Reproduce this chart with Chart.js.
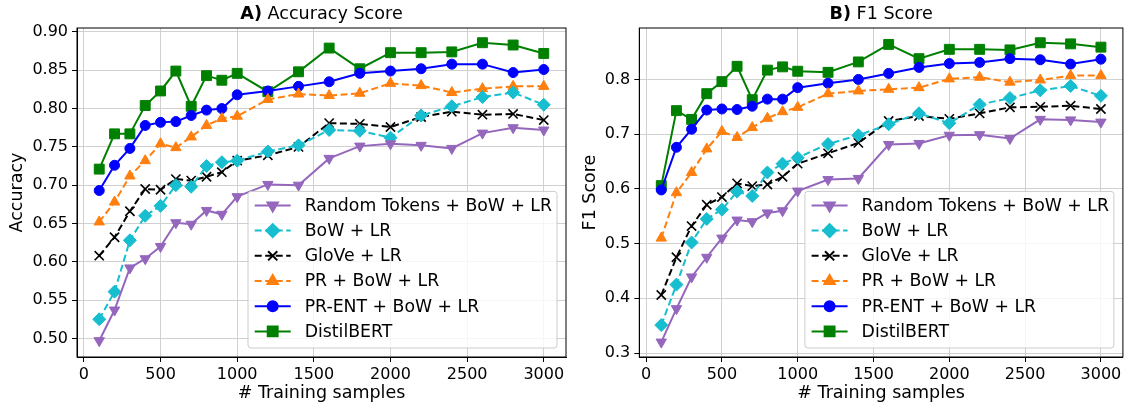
<!DOCTYPE html>
<html>
<head>
<meta charset="utf-8">
<script src="https://cdn.jsdelivr.net/npm/chart.js@4/dist/chart.umd.min.js"></script>
<style>
  html, body { margin: 0; padding: 0; background: #fff; }
  #wrap { position: relative; width: 1131px; height: 405px; overflow: hidden; }
  canvas { position: absolute; top: 0; }
  #accChart { left: 0; }
  #f1Chart { left: 575px; }
</style>
</head>
<body>
<div id="wrap">
  <canvas id="accChart" width="575" height="405"></canvas>
  <canvas id="f1Chart" width="556" height="405"></canvas>
</div>
<script>
// training set sizes on the x axis
const samples = [100, 200, 300, 400, 500, 600, 700, 800, 900, 1000, 1200, 1400, 1600, 1800, 2000, 2200, 2400, 2600, 2800, 3000];

const seriesNames = ['Random Tokens + BoW + LR', 'BoW + LR', 'GloVe + LR', 'PR + BoW + LR', 'PR-ENT + BoW + LR', 'DistilBERT'];

// tick labels
const xTicks = [0, 500, 1000, 1500, 2000, 2500, 3000];
const accTicks = [0.50, 0.55, 0.60, 0.65, 0.70, 0.75, 0.80, 0.85, 0.90];
const f1Ticks = [0.3, 0.4, 0.5, 0.6, 0.7, 0.8];

// A) accuracy
const randomAcc = [0.497, 0.537, 0.592, 0.604, 0.620, 0.651, 0.649, 0.667, 0.662, 0.685, 0.701, 0.700, 0.735, 0.751, 0.754, 0.752, 0.748, 0.768, 0.775, 0.772];
const bowAcc    = [0.525, 0.561, 0.628, 0.660, 0.673, 0.700, 0.698, 0.725, 0.730, 0.732, 0.744, 0.752, 0.772, 0.771, 0.762, 0.791, 0.803, 0.815, 0.821, 0.805];
const gloveAcc  = [0.608, 0.632, 0.666, 0.695, 0.694, 0.708, 0.706, 0.711, 0.717, 0.732, 0.739, 0.750, 0.781, 0.780, 0.776, 0.789, 0.796, 0.792, 0.793, 0.785];
const prAcc     = [0.652, 0.678, 0.712, 0.732, 0.754, 0.749, 0.763, 0.778, 0.787, 0.790, 0.812, 0.819, 0.817, 0.820, 0.833, 0.830, 0.821, 0.826, 0.829, 0.829];
const prentAcc  = [0.693, 0.726, 0.748, 0.778, 0.782, 0.783, 0.791, 0.798, 0.800, 0.818, 0.823, 0.829, 0.835, 0.846, 0.849, 0.852, 0.858, 0.858, 0.847, 0.851];
const distilAcc = [0.721, 0.767, 0.767, 0.804, 0.823, 0.849, 0.803, 0.843, 0.837, 0.846, 0.822, 0.848, 0.879, 0.852, 0.873, 0.873, 0.874, 0.886, 0.883, 0.872];

// B) F1
const randomF1 = [0.320, 0.381, 0.439, 0.475, 0.510, 0.543, 0.540, 0.556, 0.560, 0.596, 0.617, 0.619, 0.681, 0.683, 0.698, 0.699, 0.692, 0.727, 0.726, 0.722];
const bowF1    = [0.351, 0.425, 0.502, 0.545, 0.562, 0.595, 0.587, 0.630, 0.646, 0.657, 0.682, 0.698, 0.718, 0.738, 0.720, 0.754, 0.766, 0.780, 0.788, 0.770];
const gloveF1  = [0.406, 0.475, 0.532, 0.571, 0.585, 0.610, 0.605, 0.608, 0.622, 0.646, 0.665, 0.684, 0.724, 0.733, 0.728, 0.738, 0.749, 0.750, 0.752, 0.746];
const prF1     = [0.510, 0.593, 0.630, 0.673, 0.705, 0.694, 0.712, 0.729, 0.741, 0.749, 0.774, 0.779, 0.782, 0.785, 0.801, 0.804, 0.795, 0.799, 0.807, 0.807];
const prentF1  = [0.598, 0.676, 0.709, 0.744, 0.746, 0.745, 0.751, 0.764, 0.764, 0.785, 0.793, 0.800, 0.811, 0.822, 0.829, 0.831, 0.838, 0.836, 0.828, 0.837];
const distilF1 = [0.606, 0.743, 0.727, 0.774, 0.796, 0.824, 0.763, 0.817, 0.823, 0.815, 0.813, 0.832, 0.864, 0.838, 0.855, 0.855, 0.854, 0.867, 0.865, 0.859];

Chart.defaults.font.family = "'DejaVu Sans', sans-serif";
Chart.defaults.color = '#000';

// look of each series (same order as seriesNames)
const looks = [
  { color: '#9467bd', dash: [],       style: 'triangle', rot: 180, r: 6 },
  { color: '#17becf', dash: [7, 3.5], style: 'rectRot',  rot: 0,   r: 6.5 },
  { color: '#000000', dash: [7, 3.5], style: 'crossRot', rot: 0,   r: 6.5 },
  { color: '#ff7f0e', dash: [7, 3.5], style: 'triangle', rot: 0,   r: 6 },
  { color: '#0000ff', dash: [],       style: 'circle',   rot: 0,   r: 5 },
  { color: '#008000', dash: [],       style: 'rect',     rot: 0,   r: 7 }
];

function makeDatasets(seriesList) {
  return seriesList.map((vals, i) => {
    const lk = looks[i];
    return {
      label: seriesNames[i],
      data: vals.map((v, j) => ({ x: samples[j], y: v })),
      borderColor: lk.color,
      backgroundColor: lk.color,
      borderWidth: 2,
      borderDash: lk.dash,
      tension: 0,
      fill: false,
      pointStyle: lk.style,
      pointRotation: lk.rot,
      pointRadius: lk.r,
      pointBorderWidth: lk.style === 'crossRot' ? 1.6 : 1,
      pointBackgroundColor: lk.color,
      pointBorderColor: lk.color
    };
  });
}

// frame on all four sides + legend box inside the plot + panel title
const frameAndLegend = {
  id: 'frameAndLegend',
  afterDatasetsDraw(chart) {
    const { ctx, chartArea: a } = chart;
    ctx.save();
    ctx.strokeStyle = '#000';
    ctx.lineWidth = 1;
    ctx.setLineDash([]);
    ctx.strokeRect(a.left, a.top, a.right - a.left, a.bottom - a.top);

    const w = 309, h = 156.6, rowH = 25.2;
    const x0 = a.right - 9 - w, y0 = a.bottom - 9 - h;
    ctx.beginPath();
    ctx.roundRect(x0, y0, w, h, 3);
    ctx.fillStyle = 'rgba(255,255,255,0.8)';
    ctx.fill();
    ctx.strokeStyle = '#cccccc';
    ctx.stroke();

    chart.data.datasets.forEach((ds, i) => {
      const cy = y0 + 14 + i * rowH;
      ctx.strokeStyle = ds.borderColor;
      ctx.lineWidth = ds.borderWidth;
      ctx.setLineDash(ds.borderDash || []);
      ctx.beginPath();
      ctx.moveTo(x0 + 6.7, cy);
      ctx.lineTo(x0 + 42.7, cy);
      ctx.stroke();
      ctx.setLineDash([]);
      ctx.fillStyle = ds.pointBackgroundColor;
      ctx.strokeStyle = ds.pointBorderColor;
      Chart.helpers.drawPoint(ctx, {
        pointStyle: ds.pointStyle,
        rotation: ds.pointRotation,
        radius: ds.pointRadius,
        borderWidth: ds.pointBorderWidth
      }, x0 + 24.7, cy);
      ctx.fillStyle = '#000';
      ctx.font = "17.3px 'DejaVu Sans', sans-serif";
      ctx.textAlign = 'left';
      ctx.textBaseline = 'middle';
      ctx.fillText(ds.label, x0 + 56.7, cy + 1);
    });
    ctx.restore();
  },
  afterDraw(chart, args, opts) {
    const { ctx, chartArea: a } = chart;
    const cx = (a.left + a.right) / 2;
    ctx.save();
    ctx.textBaseline = 'middle';
    ctx.fillStyle = '#000';
    const bold = "bold 17.6px 'DejaVu Sans', sans-serif";
    const norm = "17.6px 'DejaVu Sans', sans-serif";
    ctx.font = bold;
    const w1 = ctx.measureText(opts.tag).width;
    ctx.font = norm;
    const w2 = ctx.measureText(' ' + opts.name).width;
    const x = cx - (w1 + w2) / 2;
    ctx.textAlign = 'left';
    ctx.font = bold;
    ctx.fillText(opts.tag, x, 14.5);
    ctx.font = norm;
    ctx.fillText(' ' + opts.name, x + w1, 14.5);
    ctx.restore();
  }
};

function buildChart(id, seriesList, cfg) {
  return new Chart(document.getElementById(id), {
    type: 'line',
    data: { datasets: makeDatasets(seriesList) },
    plugins: [frameAndLegend],
    options: {
      responsive: false,
      animation: false,
      layout: { padding: { left: 0, right: cfg.padRight, top: 28, bottom: 0 } },
      plugins: {
        legend: { display: false },
        tooltip: { enabled: false },
        frameAndLegend: { tag: cfg.tag, name: cfg.name }
      },
      scales: {
        x: {
          type: 'linear',
          min: -45,
          max: 3145,
          afterBuildTicks(s) { s.ticks = xTicks.map(v => ({ value: v })); },
          ticks: { autoSkip: false, maxRotation: 0, padding: 3, font: { size: 16 }, callback: v => String(v) },
          grid: { color: '#d0d0d0', lineWidth: 1, tickLength: 5, tickColor: '#000' },
          border: { color: '#000', width: 1 },
          title: { display: true, text: '# Training samples', font: { size: 17.5 }, padding: { top: 0, bottom: 1 } },
          afterFit(s) { s.height = 48; }
        },
        y: {
          min: cfg.yMin,
          max: cfg.yMax,
          afterBuildTicks(s) { s.ticks = cfg.yTicks.map(v => ({ value: v })); },
          ticks: { autoSkip: false, padding: 4, font: { size: 16 }, callback: v => v.toFixed(cfg.dec) },
          grid: { color: '#d0d0d0', lineWidth: 1, tickLength: 5, tickColor: '#000' },
          border: { color: '#000', width: 1 },
          title: { display: true, text: cfg.yTitle, font: { size: 17.5 }, padding: { top: cfg.titlePad, bottom: 0 } },
          afterFit(s) { s.width = cfg.yWidth; }
        }
      }
    }
  });
}

buildChart('accChart', [randomAcc, bowAcc, gloveAcc, prAcc, prentAcc, distilAcc], {
  tag: 'A)', name: 'Accuracy Score', yTitle: 'Accuracy', yTicks: accTicks,
  yMin: 0.4757, yMax: 0.9052, dec: 2,
  yWidth: 77, padRight: 9, titlePad: 7
});

buildChart('f1Chart', [randomF1, bowF1, gloveF1, prF1, prentF1, distilF1], {
  tag: 'B)', name: 'F1 Score', yTitle: 'F1 Score', yTicks: f1Ticks,
  yMin: 0.2927, yMax: 0.8940, dec: 1,
  yWidth: 64.3, padRight: 2.3, titlePad: 5
});
</script>
</body>
</html>
